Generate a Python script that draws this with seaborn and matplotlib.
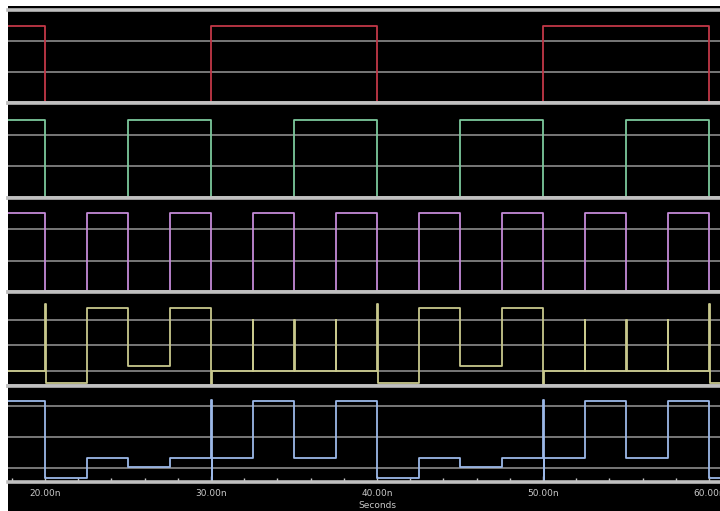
import numpy as np
import pandas as pd
import matplotlib
matplotlib.use("Agg")
import matplotlib.pyplot as plt
import seaborn as sns
from matplotlib.ticker import MultipleLocator
from matplotlib.patches import Rectangle

# ---------------- data (time in ns, arbitrary volts) ----------------
t_start, t_end = 17.77, 60.66

red_t = [t_start, 20.0, 30.0, 40.0, 50.0, 60.0, t_end]
red_v = [2.48, 0.03, 2.48, 0.03, 2.48, 0.03, 0.03]

green_t = [t_start, 20.0, 25.0, 30.0, 35.0, 40.0, 45.0, 50.0, 55.0, 60.0, t_end]
green_v = [2.46, 0.03, 2.46, 0.03, 2.46, 0.03, 2.46, 0.03, 2.46, 0.03, 0.03]

purple_t = [t_start, 20.0, 22.5, 25.0, 27.5, 30.0, 32.5, 35.0, 37.5, 40.0,
            42.5, 45.0, 47.5, 50.0, 52.5, 55.0, 57.5, 60.0, t_end]
purple_v = [2.52, 0.03, 2.52, 0.03, 2.52, 0.03, 2.52, 0.03, 2.52, 0.03,
            2.52, 0.03, 2.52, 0.03, 2.52, 0.03, 2.52, 0.03, 0.03]

yellow_t = [t_start, 20.0, 20.05, 22.5, 25.0, 27.5, 30.0, 30.05,
            32.5, 32.55, 35.0, 35.05, 37.5, 37.55,
            40.0, 40.05, 42.5, 45.0, 47.5, 50.0, 50.05,
            52.5, 52.55, 55.0, 55.05, 57.5, 57.55,
            60.0, 60.05, t_end]
yellow_v = [0.0, 2.63, -0.47, 2.48, 0.2, 2.48, -0.5, 0.0,
            2.0, 0.0, 2.0, 0.0, 2.0, 0.0,
            2.63, -0.47, 2.48, 0.2, 2.48, -0.5, 0.0,
            2.0, 0.0, 2.0, 0.0, 2.0, 0.0,
            2.63, -0.47, -0.47]

blue_t = [t_start, 20.0, 22.5, 25.0, 27.5, 30.0, 30.03, 30.06, 32.5, 35.0, 37.5,
          40.0, 42.5, 45.0, 47.5, 50.0, 50.03, 50.06, 52.5, 55.0, 57.5, 60.0, t_end]
blue_v = [2.16, -0.33, 0.33, 0.03, 0.33, 2.2, -0.4, 0.33, 2.16, 0.33, 2.16,
          -0.33, 0.33, 0.03, 0.33, 2.2, -0.4, 0.33, 2.16, 0.33, 2.16, -0.33, -0.33]

tick_values = [20, 30, 40, 50, 60]
tick_labels = ["20.00n", "30.00n", "40.00n", "50.00n", "60.00n"]
x_label = "Seconds"

# ---------------- style ----------------
sns.set_style("dark", rc={"axes.facecolor": "black", "figure.facecolor": "white"})
plt.rcParams["font.family"] = ["DejaVu Sans"]

signals = [
    (red_t, red_v, "#c23848", (0, 3), [1, 2]),
    (green_t, green_v, "#7cc89c", (0, 3), [1, 2]),
    (purple_t, purple_v, "#c48ad8", (0, 3), [1, 2]),
    (yellow_t, yellow_v, "#c8c88c", (-0.59, 3.1), [0, 1, 2]),
    (blue_t, blue_v, "#9cb8e8", (-0.46, 2.66), [0, 1, 2]),
]

fig = plt.figure(figsize=(7.2, 5.11), dpi=100)
fig.patches.append(Rectangle((8 / 720, 0), 1 - 8 / 720, 1 - 6 / 511,
                             transform=fig.transFigure, facecolor="black",
                             edgecolor="none", zorder=-10))
gs = fig.add_gridspec(5, 1, height_ratios=[93, 95, 94, 94, 96],
                      left=8 / 720, right=1.0, top=1 - 10 / 511,
                      bottom=1 - 482 / 511, hspace=0)

grid_col = "#787878"
sep_col = "#c0c0c0"
txt_col = "#c8c8c8"

axes = []
for i, (tt, vv, col, ylim, gridy) in enumerate(signals):
    ax = fig.add_subplot(gs[i])
    axes.append(ax)
    ax.set_facecolor("black")
    for y in gridy:
        ax.axhline(y, color=grid_col, lw=1.4, zorder=1)
    df = pd.DataFrame({"time": tt, "value": vv})
    sns.lineplot(data=df, x="time", y="value", ax=ax, color=col, lw=1.3,
                 estimator=None, sort=False, drawstyle="steps-post", zorder=3)
    ax.set_xlim(t_start, t_end)
    ax.set_ylim(*ylim)
    ax.set_yticks([])
    ax.set_xlabel("")
    ax.set_ylabel("")
    ax.grid(False)
    for s in ["left", "right"]:
        ax.spines[s].set_visible(False)
    for s in ["top", "bottom"]:
        ax.spines[s].set_visible(True)
        ax.spines[s].set_color(sep_col)
        ax.spines[s].set_linewidth(2.6)
        ax.spines[s].set_zorder(5)
    if i < 4:
        ax.set_xticks([])
    else:
        ax.set_xticks(tick_values)
        ax.set_xticklabels(tick_labels)
        ax.xaxis.set_minor_locator(MultipleLocator(2))
        ax.tick_params(axis="x", which="major", direction="in", length=4,
                       width=1, colors=txt_col, labelsize=6.5, pad=5,
                       bottom=True)
        ax.tick_params(axis="x", which="minor", direction="in", length=3,
                       width=1, color=txt_col, bottom=True)
        ax.set_xlabel(x_label, color=txt_col, fontsize=6.5, labelpad=1)
        ax.xaxis.set_label_coords((377 - 8) / 712, -0.2)

fig.savefig("out.png", dpi=100, facecolor="white")
